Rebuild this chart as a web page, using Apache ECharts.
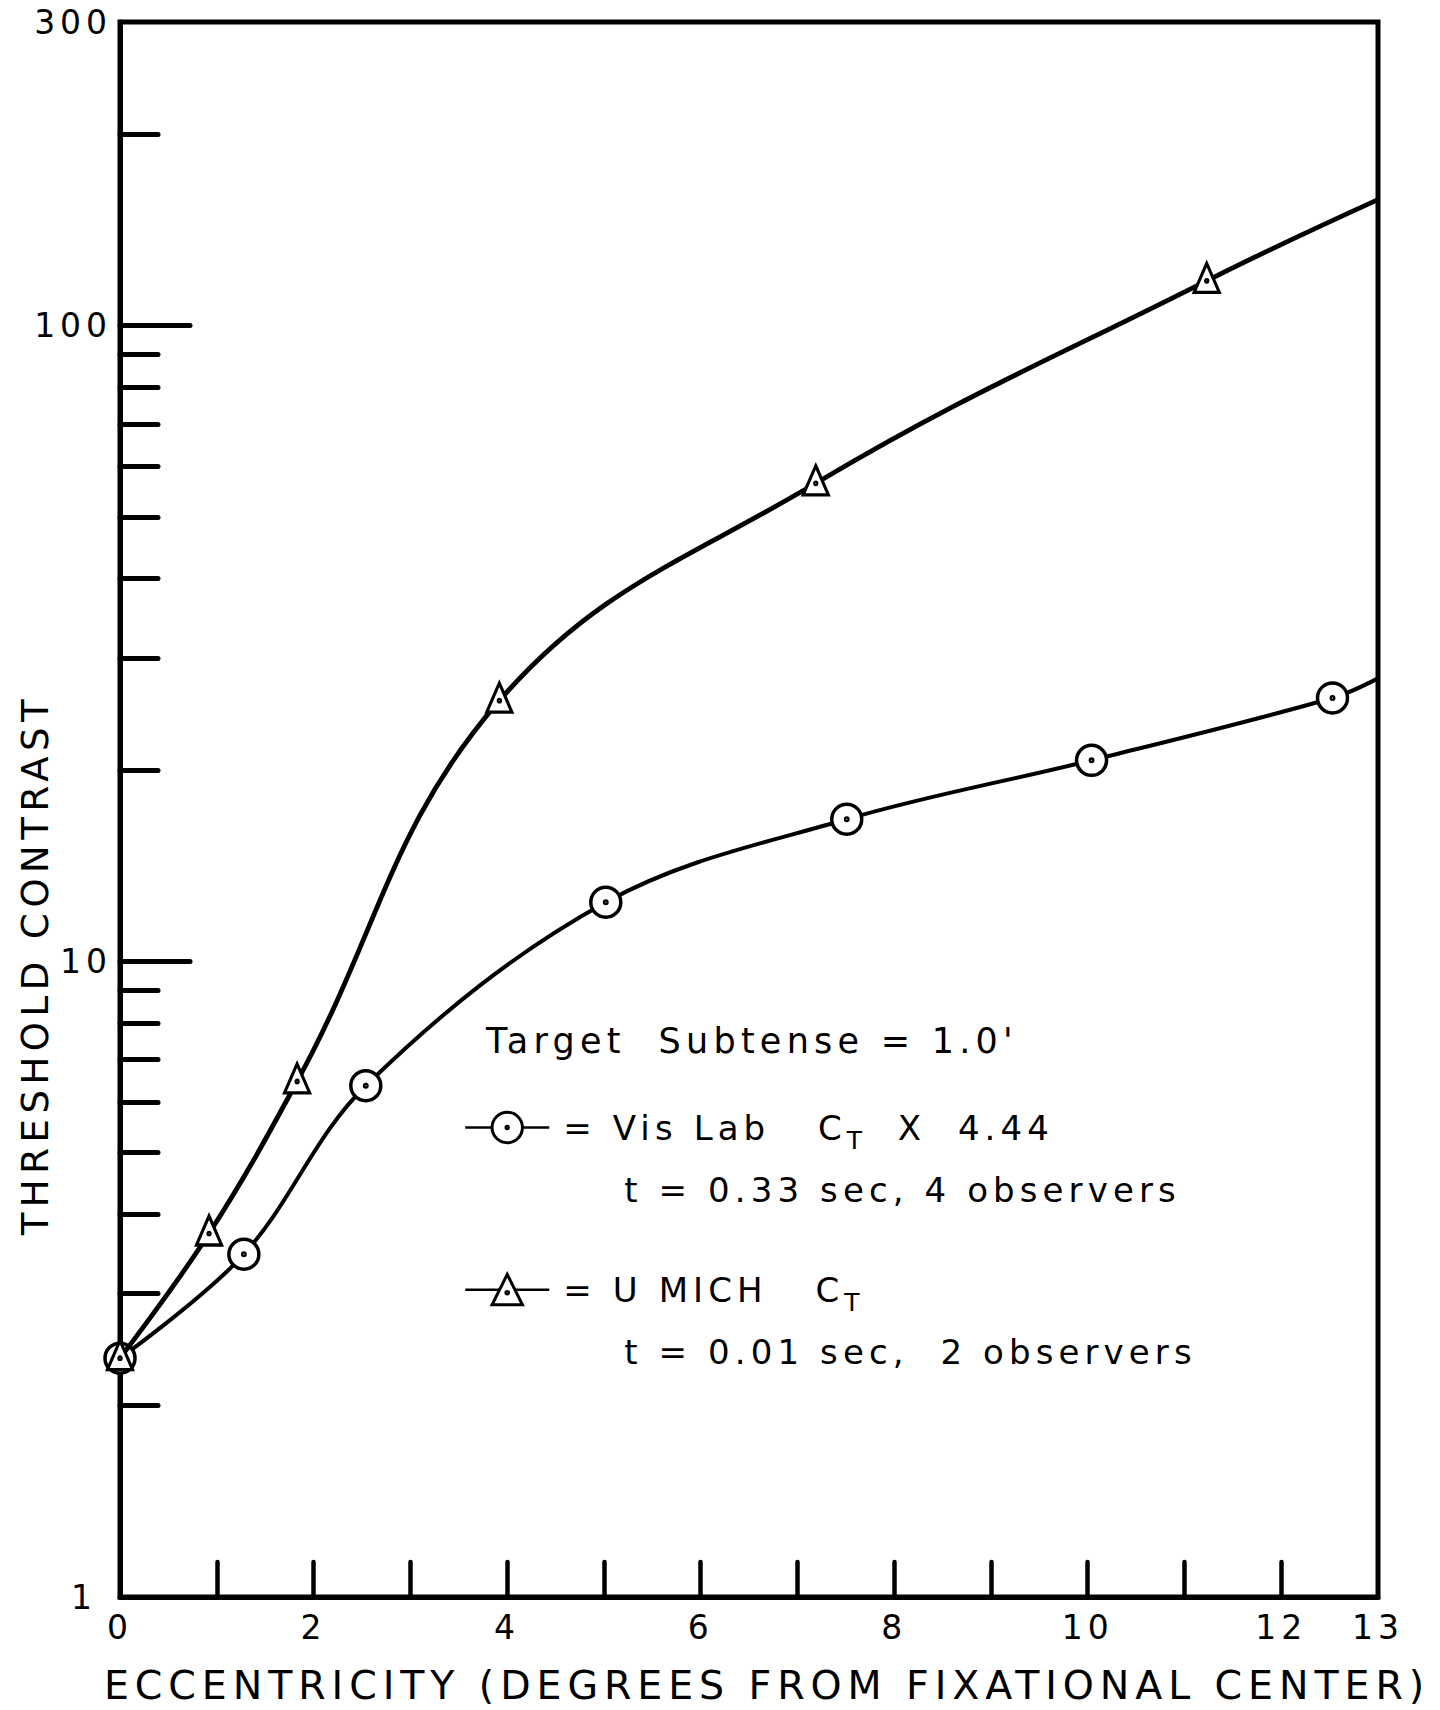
<!DOCTYPE html>
<html>
<head>
<meta charset="utf-8">
<script src="https://cdn.jsdelivr.net/npm/echarts@6/dist/echarts.min.js"></script>
<style>
  html, body { margin: 0; padding: 0; background: #fff; }
  #chart { width: 1440px; height: 1710px; }
  #chart svg text { letter-spacing: 0.15em; }
</style>
</head>
<body>
<div id="chart"></div>
<script>
// ---- data ----
const eccVisLab   = [0, 1.28, 2.54, 5.02, 7.51, 10.04, 12.53, 13];
const visLab      = [2.375, 3.46, 6.37, 12.38, 16.72, 20.70, 25.94, 27.85];
const eccUMich    = [0, 0.92, 1.83, 3.92, 7.19, 11.23, 13];
const uMich       = [2.375, 3.73, 6.47, 25.69, 56.44, 117.5, 157.7];

const xTickValues  = [1, 2, 3, 4, 5, 6, 7, 8, 9, 10, 11, 12];
const xLabelValues = [0, 2, 4, 6, 8, 10, 12, 13];
const yLabelValues = [1, 10, 100, 300];
const yMajorTicks  = [10, 100];
const yMinorTicks  = [2, 3, 4, 5, 6, 7, 8, 9, 20, 30, 40, 50, 60, 70, 80, 90, 200];

const seriesNames = ['Vis Lab', 'U MICH'];
const noteText = "Target  Subtense = 1.0'";

// ---- styling ----
const FONT = 'DejaVu Sans';
const LS_EM = 0.15; // lettering is widely spaced; keep measurement consistent with the CSS

const measureCtx = document.createElement('canvas').getContext('2d');
echarts.setPlatformAPI({
  measureText: function (text, font) {
    measureCtx.font = font || '12px sans-serif';
    const m = /(\d+(?:\.\d+)?)px/.exec(font || '12px');
    const size = m ? parseFloat(m[1]) : 12;
    try { measureCtx.letterSpacing = (size * LS_EM) + 'px'; } catch (e) {}
    return measureCtx.measureText(text);
  }
});

const circleSym = 'path://M0,15A15,15,0,1,1,30,15A15,15,0,1,1,0,15ZM13.8,15A1.2,1.2,0,1,1,16.2,15A1.2,1.2,0,1,1,13.8,15Z';
const triSym = 'path://M13.5,0L27,29L0,29ZM12.3,17.5A1.2,1.2,0,1,1,14.7,17.5A1.2,1.2,0,1,1,12.3,17.5Z';

function toData(xs, ys) {
  return xs.map((x, i) => i === xs.length - 1 ? { value: [x, ys[i]], symbol: 'none' } : [x, ys[i]]);
}

const chart = echarts.init(document.getElementById('chart'), null, { renderer: 'svg' });

const legendRich = {
  b:    { fontFamily: FONT, fontSize: 34, lineHeight: 62, color: '#000' },
  lead: { fontFamily: FONT, fontSize: 34, lineHeight: 62, color: '#000', padding: [0, 0, 0, 9] },
  a:    { fontFamily: FONT, fontSize: 34, lineHeight: 62, color: '#000' },
  s:    { fontFamily: FONT, fontSize: 25, color: '#000', padding: [26, 0, 0, 0] },
  d:    { fontFamily: FONT, fontSize: 34, lineHeight: 62, color: '#000', padding: [0, 0, 0, 70] }
};

const option = {
  animation: false,
  backgroundColor: '#fff',
  title: {
    text: noteText,
    left: 486, top: 1021, padding: 0,
    textStyle: { fontFamily: FONT, fontSize: 35, fontWeight: 'normal', color: '#000' }
  },
  legend: {
    orient: 'vertical',
    left: 464, top: 1046, padding: 0,
    itemWidth: 84, itemHeight: 38, itemGap: -1,
    selectedMode: false,
    data: seriesNames,
    lineStyle: { width: 2.5, color: '#000' },
    itemStyle: { borderWidth: 3, borderColor: '#000', color: '#fff' },
    textStyle: { fontFamily: FONT, fontSize: 34, color: '#000', rich: legendRich },
    formatter: function (name) {
      if (name === 'Vis Lab') {
        return '{b| }\n{lead|= Vis Lab   C}{s|T}{a|  X  4.44}\n{d|t = 0.33 sec, 4 observers}';
      }
      return '{b| }\n{lead|= U MICH   C}{s|T}\n{d|t = 0.01 sec,  2 observers}';
    }
  },
  grid: {
    left: 120, right: 62, top: 22, bottom: 113,
    containLabel: false, outerBoundsMode: 'none',
    show: true, borderColor: '#000', borderWidth: 5, backgroundColor: 'transparent'
  },
  xAxis: {
    type: 'value', min: 0, max: 13, interval: 1,
    name: 'ECCENTRICITY (DEGREES FROM FIXATIONAL CENTER)',
    nameLocation: 'middle', nameGap: 73, nameMoveOverlap: false,
    nameTextStyle: { fontFamily: FONT, fontSize: 39.5, lineHeight: 30, color: '#000', padding: [0, 0, 0, 36] },
    axisLine: { show: true, lineStyle: { color: '#000', width: 5 } },
    axisTick: { show: true, inside: true, length: 35, customValues: xTickValues,
                lineStyle: { color: '#000', width: 4.5, cap: 'round' } },
    axisLabel: { customValues: xLabelValues, margin: 12, fontFamily: FONT, fontSize: 33, color: '#000' },
    splitLine: { show: false }
  },
  yAxis: [
    {
      type: 'log', logBase: 10, min: 1, max: 300, position: 'left',
      name: 'THRESHOLD CONTRAST',
      nameLocation: 'middle', nameGap: 63, nameRotate: 90, nameMoveOverlap: false,
      nameTextStyle: { fontFamily: FONT, fontSize: 37, color: '#000', padding: [0, 310, 0, 0] },
      axisLine: { show: true, lineStyle: { color: '#000', width: 5 } },
      axisTick: { show: true, inside: true, length: 70, customValues: yMajorTicks,
                  lineStyle: { color: '#000', width: 5, cap: 'round' } },
      axisLabel: {
        customValues: yLabelValues, margin: 8, fontFamily: FONT, fontSize: 33, color: '#000',
        formatter: function (v) { const r = Math.round(v); return r === 1 ? '{one|1}' : String(r); },
        rich: { one: { fontFamily: FONT, fontSize: 33, color: '#000', padding: [0, 15, 0, 0] } }
      },
      splitLine: { show: false }
    },
    {
      type: 'log', logBase: 10, min: 1, max: 300, position: 'left', offset: 0,
      axisLine: { show: false },
      axisTick: { show: true, inside: true, length: 38, customValues: yMinorTicks,
                  lineStyle: { color: '#000', width: 5, cap: 'round' } },
      axisLabel: { show: false },
      splitLine: { show: false }
    }
  ],
  series: [
    {
      name: 'Vis Lab', type: 'line', yAxisIndex: 0, clip: false,
      data: toData(eccVisLab, visLab),
      smooth: 0.35,
      symbol: circleSym, symbolSize: 30, symbolKeepAspect: true,
      lineStyle: { color: '#000', width: 4 },
      itemStyle: { color: '#fff', borderColor: '#000', borderWidth: 3.5 },
      emphasis: { disabled: true },
      z: 2
    },
    {
      name: 'U MICH', type: 'line', yAxisIndex: 0, clip: false,
      data: toData(eccUMich, uMich),
      smooth: 0.4,
      symbol: triSym, symbolSize: [27, 29], symbolOffset: [0, -3], symbolKeepAspect: true,
      lineStyle: { color: '#000', width: 4.8 },
      itemStyle: { color: '#fff', borderColor: '#000', borderWidth: 3.2 },
      emphasis: { disabled: true },
      z: 3
    }
  ]
};

chart.setOption(option);
</script>
</body>
</html>
